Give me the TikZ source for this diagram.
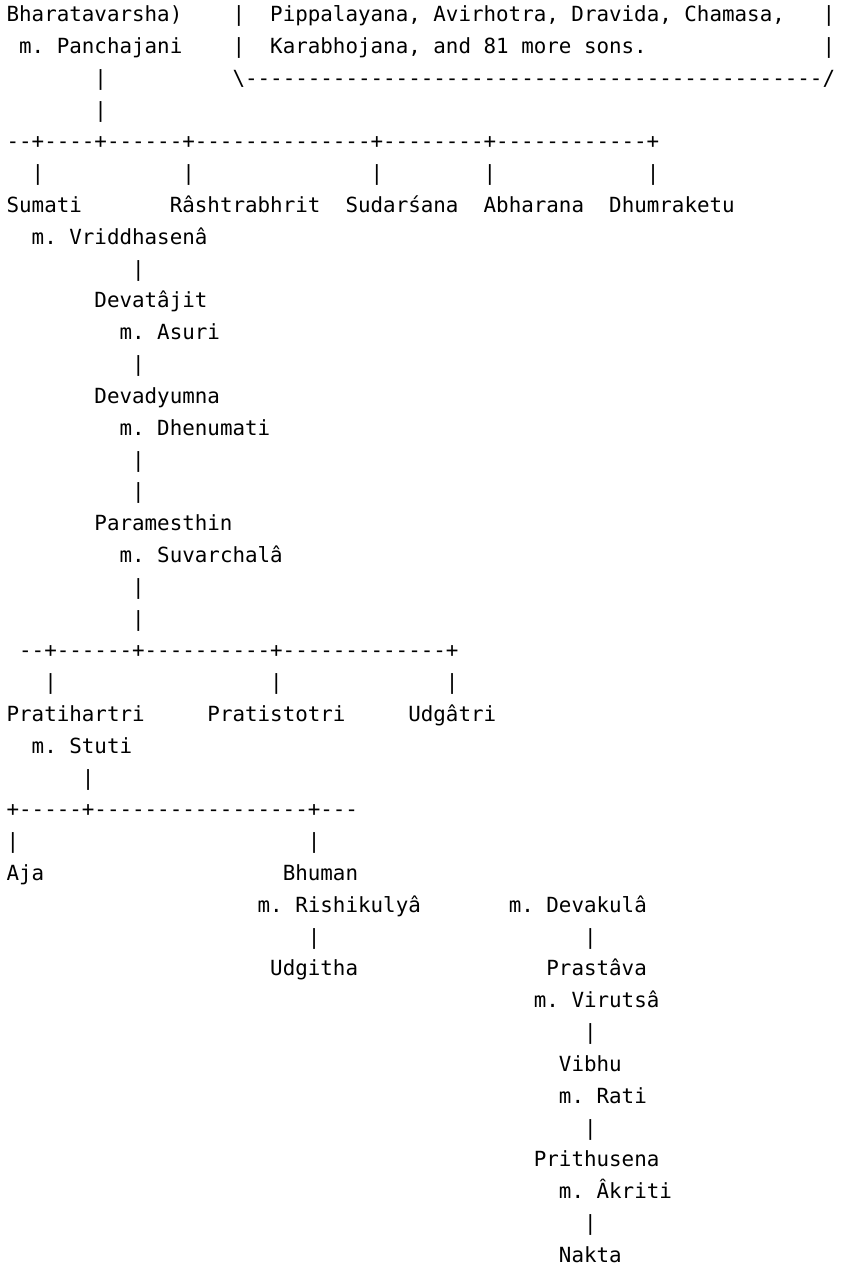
\documentclass[tikz,border=0pt]{standalone}
\usepackage{fontspec}
\setmonofont{DejaVu Sans Mono}
\frenchspacing
\newcommand{\asciifont}{\ttfamily\fontsize{20.85}{25}\selectfont\frenchspacing}
\tikzset{
  txt/.style={anchor=base west, inner sep=0pt, outer sep=0pt, font=\asciifont, text=black},
}
% \cell{name}{column}{row}{text}
\newcommand{\cell}[4]{\node[txt] (#1) at ({6.6+#2*12.554},{1244.3-(#3-1)*31.81}) {#4};}
\begin{document}
\begin{tikzpicture}[x=1pt,y=1pt]
\fill[white] (0,0) rectangle (841,1266);
\useasboundingbox (0,0) rectangle (841,1266);
% row 1
\cell{bharata}{0}{1}{Bharatavarsha)}
\cell{boxLa}{18}{1}{|}
\cell{sonsA}{21}{1}{Pippalayana, Avirhotra, Dravida, Chamasa,}
\cell{boxRa}{65}{1}{|}
% row 2
\cell{panch}{1}{2}{m. Panchajani}
\cell{boxLb}{18}{2}{|}
\cell{sonsB}{21}{2}{Karabhojana, and 81 more sons.}
\cell{boxRb}{65}{2}{|}
% row 3
\cell{vA}{7}{3}{|}
\cell{boxBot}{18}{3}{\textbackslash ----------------------------------------------/}
% row 4
\cell{vB}{7}{4}{|}
% row 5
\cell{barA}{0}{5}{--+----+------+--------------+--------+------------+}
% row 6
\cell{pSumati}{2}{6}{|}
\cell{pRash}{14}{6}{|}
\cell{pSudar}{29}{6}{|}
\cell{pAbha}{38}{6}{|}
\cell{pDhum}{51}{6}{|}
% row 7
\cell{sumati}{0}{7}{Sumati}
\cell{rash}{13}{7}{Râshtrabhrit}
\cell{sudar}{27}{7}{Sudarśana}
\cell{abha}{38}{7}{Abharana}
\cell{dhum}{48}{7}{Dhumraketu}
% rows 8-20
\cell{vriddha}{2}{8}{m. Vriddhasenâ}
\cell{vC}{10}{9}{|}
\cell{devataj}{7}{10}{Devatâjit}
\cell{asuri}{9}{11}{m. Asuri}
\cell{vD}{10}{12}{|}
\cell{devad}{7}{13}{Devadyumna}
\cell{dhenu}{9}{14}{m. Dhenumati}
\cell{vE}{10}{15}{|}
\cell{vF}{10}{16}{|}
\cell{param}{7}{17}{Paramesthin}
\cell{suvar}{9}{18}{m. Suvarchalâ}
\cell{vG}{10}{19}{|}
\cell{vH}{10}{20}{|}
% row 21-22
\cell{barB}{1}{21}{--+------+----------+-------------+}
\cell{pPrati}{3}{22}{|}
\cell{pPratis}{21}{22}{|}
\cell{pUdga}{35}{22}{|}
% row 23
\cell{prati}{0}{23}{Pratihartri}
\cell{pratis}{16}{23}{Pratistotri}
\cell{udga}{32}{23}{Udgâtri}
% row 24-27
\cell{stuti}{2}{24}{m. Stuti}
\cell{vI}{6}{25}{|}
\cell{barC}{0}{26}{+-----+-----------------+---}
\cell{pAja}{0}{27}{|}
\cell{pBhuman}{24}{27}{|}
% row 28-31
\cell{aja}{0}{28}{Aja}
\cell{bhuman}{22}{28}{Bhuman}
\cell{rishi}{20}{29}{m. Rishikulyâ}
\cell{devak}{40}{29}{m. Devakulâ}
\cell{vJ}{24}{30}{|}
\cell{vK}{46}{30}{|}
\cell{udgitha}{21}{31}{Udgitha}
\cell{prasta}{43}{31}{Prastâva}
% rows 32-40
\cell{virut}{42}{32}{m. Virutsâ}
\cell{vL}{46}{33}{|}
\cell{vibhu}{44}{34}{Vibhu}
\cell{rati}{44}{35}{m. Rati}
\cell{vM}{46}{36}{|}
\cell{prithu}{42}{37}{Prithusena}
\cell{akriti}{44}{38}{m. Âkriti}
\cell{vN}{46}{39}{|}
\cell{nakta}{44}{40}{Nakta}
\end{tikzpicture}
\end{document}
